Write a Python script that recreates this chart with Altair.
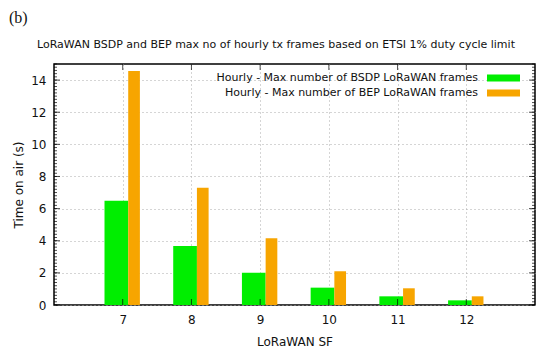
import altair as alt
import pandas as pd

# ---- data ----
sf = [7, 8, 9, 10, 11, 12]
bsdp = [6.49, 3.67, 2.01, 1.08, 0.54, 0.29]
bep = [14.56, 7.30, 4.15, 2.10, 1.04, 0.54]
series = ["Hourly - Max number of BSDP LoRaWAN frames",
          "Hourly - Max number of BEP LoRaWAN frames"]
colors = ["#00ee00", "#f7a500"]
y_major = [0, 2, 4, 6, 8, 10, 12, 14]
x_ticks = sf
title_text = "LoRaWAN BSDP and BEP max no of hourly tx frames based on ETSI 1% duty cycle limit"
panel_label = "(b)"
x_title = "LoRaWAN SF"
y_title = "Time on air (s)"

W, H = 481, 241
FONT = "DejaVu Sans"
FS = 11

rows = []
for i, s in enumerate(sf):
    rows.append({"sf": s, "series": series[0], "k": 0, "value": bsdp[i]})
    rows.append({"sf": s, "series": series[1], "k": 1, "value": bep[i]})
df = pd.DataFrame(rows)

xscale = alt.Scale(domain=[6, 13], nice=False, zero=False)
yscale = alt.Scale(domain=[0, 15], nice=False)

xaxis = alt.Axis(values=x_ticks, format="d", title=x_title,
                 grid=True, gridDash=[1, 3], gridColor="#aaaaaa",
                 ticks=False, tickSize=0, domain=False,
                 labelPadding=9, labelFontSize=FS + 1, labelFont=FONT,
                 labelColor="#111111", titleFont=FONT, titleFontSize=FS + 1,
                 titleFontWeight="normal", titleColor="#111111",
                 titleY=36, titleBaseline="middle")
yaxis = alt.Axis(values=y_major, title=y_title,
                 grid=True, gridDash=[1, 3], gridColor="#aaaaaa",
                 ticks=False, tickSize=0, domain=False,
                 labelPadding=8, labelFontSize=FS + 1, labelFont=FONT,
                 labelColor="#111111", titleFont=FONT, titleFontSize=FS + 1,
                 titleFontWeight="normal", titleColor="#111111",
                 titleX=-36, titleBaseline="middle")

bars = alt.Chart(df).transform_calculate(
    x0="datum.k == 0 ? datum.sf - 0.265 : datum.sf + 0.08",
    x1="datum.k == 0 ? datum.sf + 0.08 : datum.sf + 0.25",
).mark_rect().encode(
    x=alt.X("x0:Q", scale=xscale, axis=xaxis),
    x2="x1:Q",
    y=alt.Y("value:Q", scale=yscale, axis=yaxis),
    y2=alt.datum(0),
    color=alt.Color("series:N", scale=alt.Scale(domain=series, range=colors), legend=None),
)

# inward ticks (gnuplot style)
ymaj = pd.DataFrame({"v": y_major})
ymin = pd.DataFrame({"v": [round(i * 0.2, 2) for i in range(0, 76)]})
xt = pd.DataFrame({"v": x_ticks})

def ytick(d, xpos, size):
    return alt.Chart(d).mark_tick(orient="horizontal", size=size, thickness=1, color="black").encode(
        y=alt.Y("v:Q", scale=yscale, axis=yaxis), x=alt.value(xpos))

def xtick(d, ypos, size):
    return alt.Chart(d).mark_tick(orient="vertical", size=size, thickness=1, color="black").encode(
        x=alt.X("v:Q", scale=xscale, axis=xaxis), y=alt.value(ypos))

ticks = [
    ytick(ymin, 1.5, 3), ytick(ymaj, 3, 6),
    ytick(ymin, W - 1.5, 3), ytick(ymaj, W - 3, 6),
    xtick(xt, 3, 6), xtick(xt, H - 3, 6),
]

# texts
tdf = pd.DataFrame({"t": [title_text]})
title = alt.Chart(tdf).mark_text(font=FONT, fontSize=FS, color="#111111", align="center",
                                 baseline="middle").encode(
    text="t:N", x=alt.value(222), y=alt.value(-19))
pdf = pd.DataFrame({"t": [panel_label]})
plabel = alt.Chart(pdf).mark_text(font="Liberation Serif", fontSize=16, color="#111111",
                                  align="left", baseline="middle").encode(
    text="t:N", x=alt.value(-45), y=alt.value(-46))

ldf = pd.DataFrame({"series": series, "k": [0, 1]})
legend_layers = []
for i, s in enumerate(series):
    yc = 14 + 15 * i
    legend_layers.append(
        alt.Chart(ldf).transform_filter(alt.datum.k == i).mark_text(
            font=FONT, fontSize=FS, color="#111111", align="right", baseline="middle").encode(
            text="series:N", x=alt.value(424), y=alt.value(yc)))
    legend_layers.append(
        alt.Chart(ldf).transform_filter(alt.datum.k == i).mark_rect(color=colors[i]).encode(
            x=alt.value(433), x2=alt.value(466), y=alt.value(yc - 3.5), y2=alt.value(yc + 3.5)))

chart = alt.layer(bars, *ticks, title, plabel, *legend_layers).properties(
    width=W, height=H,
    autosize=alt.AutoSizeParams(type="none"),
    padding={"left": 46, "top": 56, "right": 7, "bottom": 44},
).configure_view(stroke="black", strokeWidth=1.5)

chart.save("out.html", embed_options={"renderer": "svg", "actions": False})
